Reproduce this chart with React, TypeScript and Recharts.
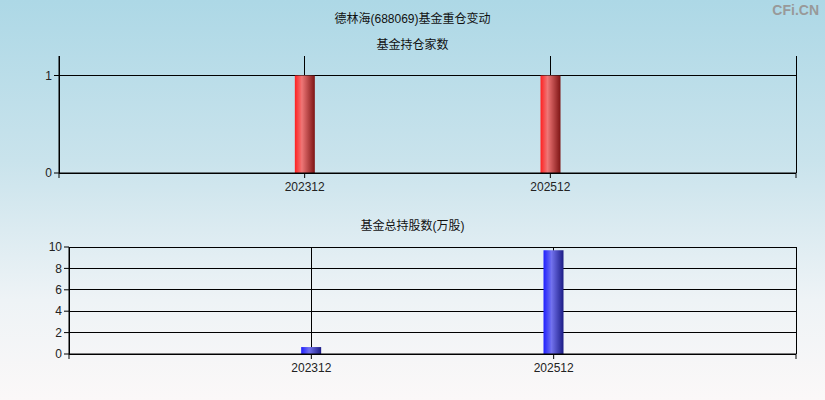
import { BarChart, Bar, XAxis, YAxis, CartesianGrid, ReferenceLine } from 'recharts';

const periods = ['202312', '202512'];
const fundCount = [1, 1];
const totalShares = [0.65, 9.7];
const countTicks = [0, 1];
const shareTicks = [0, 2, 4, 6, 8, 10];
const slotTicks = [0, 1, 2, 3];

const FONT = '"Liberation Sans", "Noto Sans CJK SC", sans-serif';

// x positions: slot 0 and 3 are the plot edges, categories sit on 1 and 2
const countData = periods.map((p, i) => ({ x: i + 1, label: p, value: fundCount[i] }));
const shareData = periods.map((p, i) => ({ x: i + 1, label: p, value: totalShares[i] }));

const xLabel = (v: number) => (v >= 1 && v <= periods.length ? periods[v - 1] : '');

const tickStyle = { fill: '#222', fontSize: 12, fontFamily: FONT };

export default function App() {
  return (
    <div
      style={{
        position: 'absolute',
        left: 0,
        top: 0,
        width: 825,
        height: 400,
        background: 'linear-gradient(to bottom, #add8e6 0%, #c9e3ec 40%, #eef3f6 75%, #fbf8f8 100%)',
        fontFamily: FONT,
        overflow: 'hidden',
      }}
    >
      <div style={{ position: 'absolute', top: 9, width: 825, textAlign: 'center', fontSize: 12, color: '#111' }}>
        德林海(688069)基金重仓变动
      </div>
      <div style={{ position: 'absolute', top: 2, right: 6, fontSize: 14, fontWeight: 'bold', color: '#999' }}>
        CFi.CN
      </div>
      <div style={{ position: 'absolute', top: 35, width: 825, textAlign: 'center', fontSize: 12, color: '#111' }}>
        基金持仓家数
      </div>
      <div style={{ position: 'absolute', top: 216, width: 825, textAlign: 'center', fontSize: 12, color: '#111' }}>
        基金总持股数(万股)
      </div>

      {/* top chart: fund count */}
      <div style={{ position: 'absolute', left: 0, top: 0 }}>
        <BarChart width={825} height={200} data={countData} margin={{ top: 56, right: 29, left: 19, bottom: 7 }}>
          <defs>
            <linearGradient id="redBar" x1="0" y1="0" x2="1" y2="0">
              <stop offset="0%" stopColor="#ff2020" />
              <stop offset="35%" stopColor="#ef7676" />
              <stop offset="100%" stopColor="#7d1414" />
            </linearGradient>
          </defs>
          <CartesianGrid
            stroke="#000"
            strokeWidth={1}
            shapeRendering="crispEdges"
            horizontal={false}
            verticalValues={slotTicks}
          />
          {countTicks.map((t) => (
            <ReferenceLine key={t} y={t} stroke="#000" strokeWidth={1} shapeRendering="crispEdges" zIndex={0} />
          ))}
          <XAxis
            type="number"
            dataKey="x"
            domain={[0, 3]}
            ticks={slotTicks}
            tickFormatter={xLabel}
            height={20}
            stroke="#000"
            tickSize={5}
            tick={{ ...tickStyle, dy: 2 }}
          />
          <YAxis
            domain={[0, 1.2]}
            ticks={countTicks}
            width={40}
            stroke="#000"
            tickSize={5}
            tick={tickStyle}
            allowDataOverflow
          />
          <Bar dataKey="value" fill="url(#redBar)" barSize={20} isAnimationActive={false} />
        </BarChart>
      </div>

      {/* bottom chart: total shares */}
      <div style={{ position: 'absolute', left: 0, top: 200 }}>
        <BarChart width={825} height={200} data={shareData} margin={{ top: 47, right: 29, left: 29, bottom: 26 }}>
          <defs>
            <linearGradient id="blueBar" x1="0" y1="0" x2="1" y2="0">
              <stop offset="0%" stopColor="#2020ff" />
              <stop offset="40%" stopColor="#7272ee" />
              <stop offset="100%" stopColor="#1c1c85" />
            </linearGradient>
          </defs>
          <CartesianGrid
            stroke="#000"
            strokeWidth={1}
            shapeRendering="crispEdges"
            horizontal={false}
            verticalValues={slotTicks}
          />
          {shareTicks.map((t) => (
            <ReferenceLine key={t} y={t} stroke="#000" strokeWidth={1} shapeRendering="crispEdges" zIndex={0} />
          ))}
          <XAxis
            type="number"
            dataKey="x"
            domain={[0, 3]}
            ticks={slotTicks}
            tickFormatter={xLabel}
            height={20}
            stroke="#000"
            tickSize={5}
            tick={{ ...tickStyle, dy: 2 }}
          />
          <YAxis
            domain={[0, 10]}
            ticks={shareTicks}
            width={40}
            stroke="#000"
            tickSize={5}
            tick={tickStyle}
          />
          <Bar dataKey="value" fill="url(#blueBar)" barSize={20} isAnimationActive={false} />
        </BarChart>
      </div>
    </div>
  );
}
